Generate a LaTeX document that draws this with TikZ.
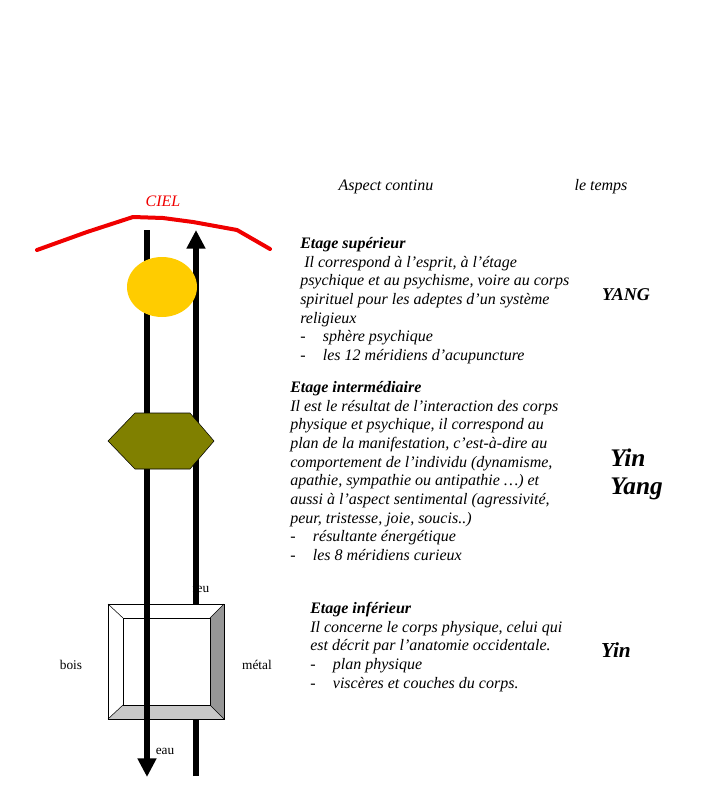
\documentclass[tikz,border=0pt]{standalone}
\usepackage{fontspec}
\setmainfont{Liberation Serif}
\usetikzlibrary{arrows.meta}

\definecolor{cielred}{RGB}{240,0,0}
\definecolor{sunyellow}{RGB}{255,204,0}
\definecolor{hexolive}{RGB}{128,128,0}
\definecolor{bevelgray}{RGB}{150,150,150}
\definecolor{bevellight}{RGB}{200,200,200}

\newcommand{\bul}{\makebox[17pt][l]{-}}

\tikzset{
  bodytext/.style={font=\fontsize{12}{14}\selectfont\itshape, align=left, anchor=north west, inner sep=0pt},
  headtext/.style={font=\fontsize{12}{14}\selectfont\itshape, inner sep=0pt},
  elemtext/.style={font=\fontsize{10}{12}\selectfont, inner sep=0pt},
  forcetext/.style={font=\bfseries\itshape, align=left, inner sep=0pt},
  axis/.style={line width=4.5pt, -{Triangle[width=13.5pt, length=14pt]}}
}

\begin{document}
\begin{tikzpicture}[x=0.75pt, y=-0.75pt]
\useasboundingbox (0,0) rectangle (717,785);

% headings
\node[headtext] (aspect) at (386,187) {Aspect continu};
\node[headtext] (temps) at (601,187) {le temps};
\node[headtext, text=cielred] (ciel) at (163,201) {CIEL};

% the sky
\draw[cielred, line width=3pt, line cap=round, line join=round]
  (37,250) -- (87,232) -- (133,217) -- (163,218) -- (193,222) -- (237,230) -- (270,249);

% elements
\node[elemtext, anchor=west] (feu) at (192,588) {feu};
\node[elemtext] (bois) at (71,665) {bois};
\node[elemtext] (metal) at (257,665) {métal};
\node[elemtext] (eau) at (165,751) {eau};

\coordinate (upfoot) at (196,776);
\coordinate (uptop) at (196,230);
\coordinate (downtop) at (147,230);
\coordinate (downfoot) at (147,777);

% rising line
\draw[axis] (upfoot) -- (uptop);

% bevelled square
\fill[white] (108,604) -- (224,604) -- (210,618) -- (123,618) -- cycle;
\fill[bevelgray] (224,604) -- (224,719) -- (210,705) -- (210,618) -- cycle;
\fill[bevellight] (108,719) -- (224,719) -- (210,705) -- (123,705) -- cycle;
\fill[white] (108,604) -- (123,618) -- (123,705) -- (108,719) -- cycle;
\fill[white] (123,618) rectangle (210,705);
\draw[thin] (108,604) rectangle (224,719);
\draw[thin] (123,618) rectangle (210,705);
\draw[thin] (108,604) -- (123,618) (224,604) -- (210,618)
  (224,719) -- (210,705) (108,719) -- (123,705);

% falling line
\draw[axis] (downtop) -- (downfoot);

% sphere and hexagon
\fill[sunyellow] (162,287) ellipse [x radius=35, y radius=30];
\draw[thin, fill=hexolive] (108,441) -- (135,413) -- (190,413) -- (214,441)
  -- (190,469) -- (135,469) -- cycle;

% the three levels
\node[bodytext] (sup) at (300,237) {\textbf{Etage supérieur}\\
\hspace{3pt}Il correspond à l’esprit, à l’étage\\
psychique et au psychisme, voire au corps\\
spirituel pour les adeptes d’un système\\
religieux\\
\bul sphère psychique\\
\bul les 12 méridiens d’acupuncture};

\node[bodytext] (inter) at (290,381) {\textbf{Etage intermédiaire}\\
Il est le résultat de l’interaction des corps\\
physique et psychique, il correspond au\\
plan de la manifestation, c’est-à-dire au\\
comportement de l’individu (dynamisme,\\
apathie, sympathie ou antipathie …) et\\
aussi à l’aspect sentimental (agressivité,\\
peur, tristesse, joie, soucis..)\\
\bul résultante énergétique\\
\bul les 8 méridiens curieux};

\node[bodytext] (inf) at (310,602) {\textbf{Etage inférieur}\\
Il concerne le corps physique, celui qui\\
est décrit par l’anatomie occidentale.\\
\bul plan physique\\
\bul viscères et couches du corps.};

% yin and yang
\node[forcetext, font=\fontsize{13.5}{16}\selectfont\bfseries\itshape] (yang) at (626,295) {YANG};
\node[forcetext, font=\fontsize{19}{21}\selectfont\bfseries\itshape, anchor=west] (yinyang) at (610,474) {Yin\\Yang};
\node[forcetext, font=\fontsize{16}{18}\selectfont\bfseries\itshape] (yin) at (616,650) {Yin};
\end{tikzpicture}
\end{document}
